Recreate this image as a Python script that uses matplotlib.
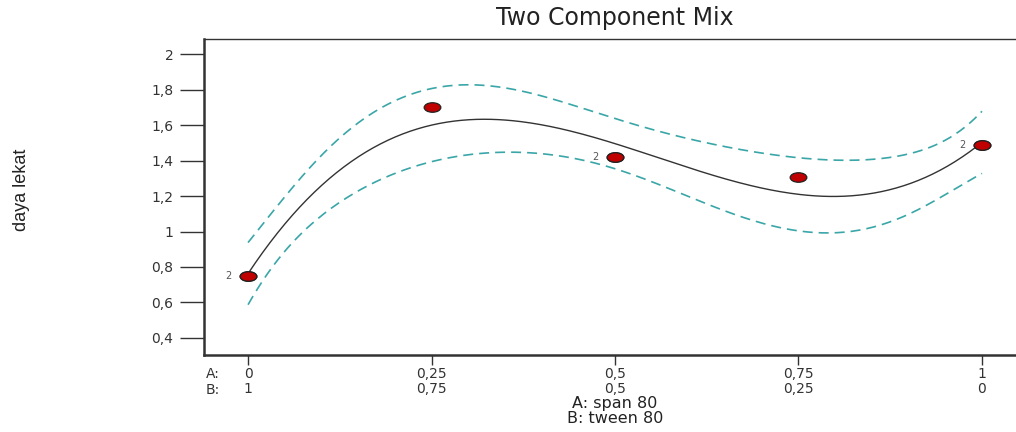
import matplotlib.pyplot as plt
import numpy as np
from matplotlib.path import Path
from matplotlib.transforms import Affine2D, blended_transform_factory

# ===============================
# Datos
# ===============================
span_80 = [0, 0, 0.25, 0.5, 0.5, 0.75, 1, 1]          # componente A
daya_lekat = [0.75, 0.75, 1.70, 1.42, 1.42, 1.31, 1.49, 1.49]
replicas_x = [0, 0.5, 1]                             # puntos con 2 réplicas
replicas_y = [0.75, 1.42, 1.49]

tick_a = ["0", "0,25", "0,5", "0,75", "1"]
tick_b = ["1", "0,75", "0,5", "0,25", "0"]
y_ticks = [0.4, 0.6, 0.8, 1.0, 1.2, 1.4, 1.6, 1.8, 2.0]
y_labels = ["0,4", "0,6", "0,8", "1", "1,2", "1,4", "1,6", "1,8", "2"]

T_CRIT = 2.776  # t(0.975, gl=4)

# ===============================
# Ajuste cúbico + intervalo de confianza 95%
# ===============================
x = np.array(span_80)
y = np.array(daya_lekat)
X = np.vander(x, 4, increasing=True)
beta, *_ = np.linalg.lstsq(X, y, rcond=None)
resid = y - X @ beta
s2 = np.sum(resid ** 2) / (len(x) - 4)
cov = s2 * np.linalg.inv(X.T @ X)

xg = np.linspace(0, 1, 300)
G = np.vander(xg, 4, increasing=True)
ajuste = G @ beta
se = np.sqrt(np.sum((G @ cov) * G, axis=1))
sup = ajuste + T_CRIT * se
inf = ajuste - T_CRIT * se

# ===============================
# Gráfico
# ===============================
fig = plt.figure(figsize=(10.16, 4.32), dpi=100)
ax = fig.add_axes([204 / 1016, 1 - 355 / 432, 822 / 1016, 316 / 432])

ax.plot(xg, sup, color="#3aa6a8", lw=1.2, dashes=(6, 3.6))
ax.plot(xg, inf, color="#3aa6a8", lw=1.2, dashes=(6, 3.6))
ax.plot(xg, ajuste, color="#333333", lw=1.0)

elipse = Path.unit_circle().transformed(Affine2D().scale(1.75, 1.0))
ax.plot(x, y, linestyle="none", marker=elipse, markersize=12,
        markerfacecolor="#c00000", markeredgecolor="#222222", markeredgewidth=0.9)

for xr, yr in zip(replicas_x, replicas_y):
    ax.annotate("2", (xr, yr), xytext=(-12, 0), textcoords="offset points",
                ha="right", va="center", fontsize=7, color="#555555")

ax.set_xlim(-0.06, 1.06)
ax.set_ylim(0.304, 2.085)

ax.set_yticks(y_ticks)
ax.set_yticklabels(y_labels, fontsize=10, color="#333333")
ax.set_xticks([0, 0.25, 0.5, 0.75, 1])
ax.set_xticklabels([f"{a}\n{b}" for a, b in zip(tick_a, tick_b)],
                   fontsize=10, color="#333333", linespacing=1.15)
ax.tick_params(axis="y", length=17, width=1, color="#333333", pad=5)
ax.tick_params(axis="x", length=7, width=1, color="#333333", pad=1.5)

for lado in ["left", "top", "right", "bottom"]:
    ax.spines[lado].set_color("#333333")
ax.spines["left"].set_linewidth(1.8)
ax.spines["bottom"].set_linewidth(1.8)
ax.spines["top"].set_linewidth(1.0)

# prefijos A: / B: de las etiquetas del eje x
trans = blended_transform_factory(fig.transFigure, ax.transAxes)
ax.text(206 / 1016, -0.038, "A:\nB:", transform=trans, ha="left", va="top",
        fontsize=10, color="#333333", linespacing=1.15)

ax.set_xlabel("A: span 80\nB: tween 80", fontsize=11.5, color="#222222",
              linespacing=1.0, labelpad=0)
fig.text(22 / 1016, 1 - 190 / 432, "daya lekat", rotation=90, ha="center",
         va="center", fontsize=13, color="#222222", family="Liberation Sans")
ax.set_title("Two Component Mix", fontsize=17, color="#222222", pad=10)

fig.savefig("out.png", dpi=100)
